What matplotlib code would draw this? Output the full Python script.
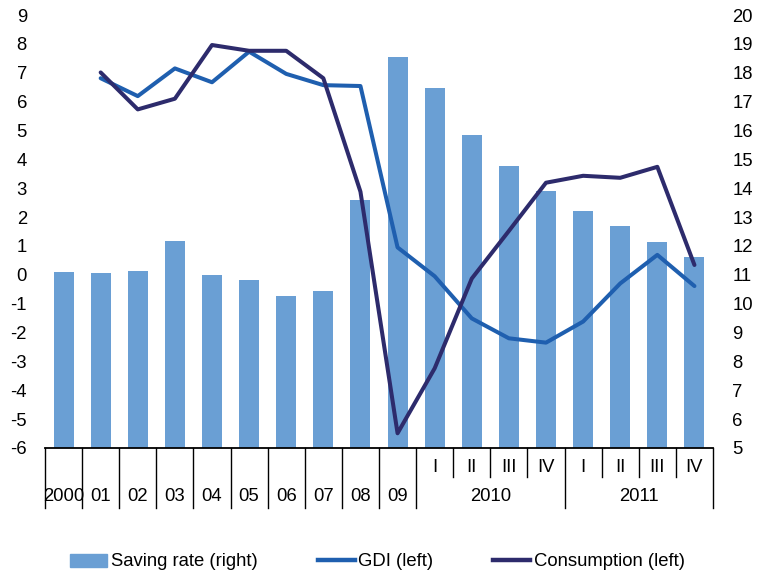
import matplotlib
matplotlib.use("Agg")
import matplotlib.pyplot as plt
from matplotlib.lines import Line2D
from matplotlib.patches import Patch

plt.rcParams['font.family'] = ['Liberation Sans', 'DejaVu Sans']
plt.rcParams['axes.unicode_minus'] = False

# category labels: years then quarters of 2010 and 2011
years = ["2000", "01", "02", "03", "04", "05", "06", "07", "08", "09"]
quarters = ["I", "II", "III", "IV"]
quarter_years = ["2010", "2011"]

# saving rate (right axis)
saving = [11.09, 11.06, 11.13, 12.18, 11.0, 10.82, 10.27, 10.44, 13.59, 18.53,
          17.46, 15.83, 14.77, 13.91, 13.2, 12.69, 12.15, 11.62]
# GDI (left axis), no value for 2000
gdi = [None, 6.81, 6.19, 7.15, 6.67, 7.73, 6.96, 6.57, 6.54, 0.95,
       -0.05, -1.51, -2.2, -2.35, -1.62, -0.3, 0.69, -0.39]
# consumption (left axis), no value for 2000
consumption = [None, 7.01, 5.73, 6.1, 7.96, 7.76, 7.76, 6.81, 2.88, -5.49,
               -3.24, -0.13, 1.52, 3.19, 3.43, 3.36, 3.74, 0.34]

bar_color = '#6A9FD4'
gdi_color = '#1F5FAF'
cons_color = '#2D2B6C'
fs = 13.3

n = len(saving)
x = list(range(n))

fig = plt.figure(figsize=(7.6, 5.77), dpi=100)
ax1 = fig.add_axes([45 / 760, 129 / 577, 668 / 760, 433 / 577])
ax2 = ax1.twinx()

ax1.bar(x, saving, width=0.54, color=bar_color, bottom=0)
ax1.set_ylim(5, 20)
ax1.set_yticks(range(5, 21))
ax1.yaxis.tick_right()

xl = [i for i in x if gdi[i] is not None]
ax2.plot(xl, [gdi[i] for i in xl], color=gdi_color, lw=2.9, solid_capstyle='round')
ax2.plot(xl, [consumption[i] for i in xl], color=cons_color, lw=2.9,
         solid_capstyle='round')
ax2.set_ylim(-6, 9)
ax2.set_yticks(range(-6, 10))
ax2.yaxis.tick_left()
ax2.yaxis.set_label_position('left')

ax1.set_xlim(-0.5, n - 0.5)
for a in (ax1, ax2):
    for s in ('top', 'left', 'right'):
        a.spines[s].set_visible(False)
    a.spines['bottom'].set_linewidth(1.3)
    a.set_xticks([])
    a.tick_params(axis='y', length=0, labelsize=fs)
ax1.tick_params(axis='y', pad=14)
ax2.tick_params(axis='y', pad=13)
ax2.spines['bottom'].set_visible(False)

# two-level category axis
tr = ax1.get_xaxis_transform()
y_q, y_y, y_short, y_long = -0.044, -0.113, -0.067, -0.139
for i, lab in enumerate(years):
    ax1.text(i, y_y, lab, transform=tr, ha='center', va='center', fontsize=fs)
for i in range(len(years) + 1):
    ax1.plot([i - 0.5, i - 0.5], [0, y_long], transform=tr, color='black',
             lw=1.0, clip_on=False)
start = len(years)
for k, yr in enumerate(quarter_years):
    base = start + 4 * k
    for j, q in enumerate(quarters):
        ax1.text(base + j, y_q, q, transform=tr, ha='center', va='center',
                 fontsize=fs)
        if j > 0:
            ax1.plot([base + j - 0.5] * 2, [0, y_short], transform=tr,
                     color='black', lw=1.0, clip_on=False)
    ax1.text(base + 1.5, y_y, yr, transform=tr, ha='center', va='center',
             fontsize=fs)
    ax1.plot([base + 3.5] * 2, [0, y_long], transform=tr, color='black',
             lw=1.0, clip_on=False)

handles = [Patch(color=bar_color, label='Saving rate (right)'),
           Line2D([], [], color=gdi_color, lw=3.2, label='GDI (left)'),
           Line2D([], [], color=cons_color, lw=3.2, label='Consumption (left)')]
fig.legend(handles=handles, loc='center left', ncol=3, frameon=False,
           bbox_to_anchor=(61 / 760, 15 / 577), borderpad=0, fontsize=fs,
           handlelength=2.0, handletextpad=0.2, columnspacing=3.25)

fig.savefig('out.png', dpi=100)
